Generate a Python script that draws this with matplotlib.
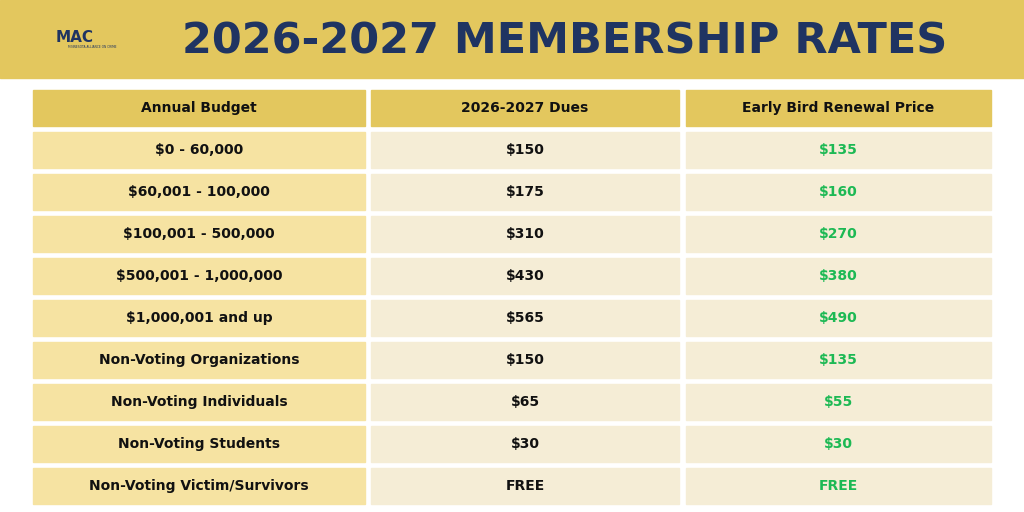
import matplotlib
matplotlib.use("Agg")
import matplotlib.pyplot as plt
from matplotlib.patches import Rectangle

title = "2026-2027 MEMBERSHIP RATES"
headers = ["Annual Budget", "2026-2027 Dues", "Early Bird Renewal Price"]
budgets = ["$0 - 60,000", "$60,001 - 100,000", "$100,001 - 500,000", "$500,001 - 1,000,000",
           "$1,000,001 and up", "Non-Voting Organizations", "Non-Voting Individuals",
           "Non-Voting Students", "Non-Voting Victim/Survivors"]
dues = ["$150", "$175", "$310", "$430", "$565", "$150", "$65", "$30", "FREE"]
early = ["$135", "$160", "$270", "$380", "$490", "$135", "$55", "$30", "FREE"]

W, H = 1024, 512
fig = plt.figure(figsize=(W/100, H/100), dpi=100)
ax = fig.add_axes([0, 0, 1, 1])
ax.set_xlim(0, W); ax.set_ylim(H, 0); ax.axis("off")

gold = "#E3C75E"
ax.add_patch(Rectangle((0, 0), W, 78, color=gold))
ax.text(565, 42, title, ha="center", va="center", fontsize=31, fontweight="black",
        family="Montserrat" if False else "DejaVu Sans", color="#1F3462")
# logo
ax.text(75, 37, "MAC", ha="center", va="center", fontsize=11, fontweight="bold", color="#1F3462")
ax.text(92, 47, "MINNESOTA ALLIANCE ON CRIME", ha="center", va="center", fontsize=2.2, color="#1F3462")

cols = [(33, 365), (371, 679), (686, 991)]
ytop, rh, pitch = 90, 36, 42
for (x0, x1), h in zip(cols, headers):
    ax.add_patch(Rectangle((x0, ytop), x1-x0, rh, color=gold))
    ax.text((x0+x1)/2, ytop+rh/2, h, ha="center", va="center", fontsize=10, fontweight="bold", color="#111111")
for i in range(len(budgets)):
    y = 132 + i*pitch
    vals = [budgets[i], dues[i], early[i]]
    fills = ["#F6E3A2", "#F5EDD6", "#F5EDD6"]
    tcols = ["#111111", "#111111", "#1DB954"]
    for (x0, x1), v, f, c in zip(cols, vals, fills, tcols):
        ax.add_patch(Rectangle((x0, y), x1-x0, rh, color=f))
        ax.text((x0+x1)/2, y+rh/2, v, ha="center", va="center", fontsize=10, fontweight="bold", color=c)
fig.savefig("out.png", dpi=100)
